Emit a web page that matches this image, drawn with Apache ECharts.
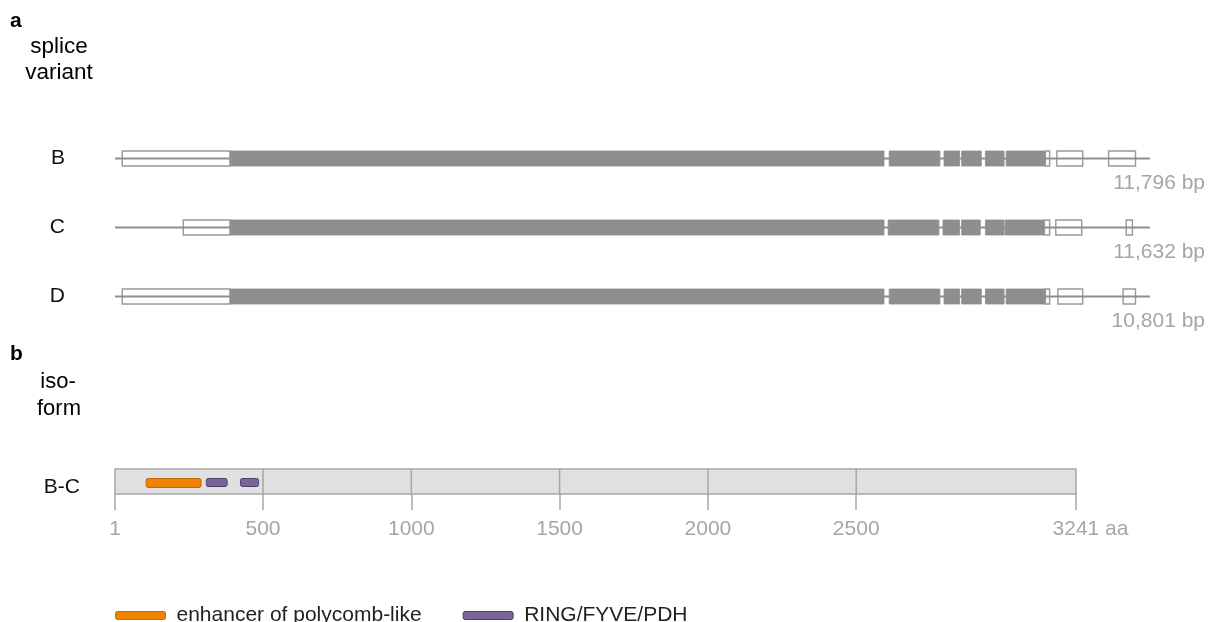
<!DOCTYPE html>
<html>
<head>
<meta charset="utf-8">
<script src="https://cdn.jsdelivr.net/npm/echarts@6.0.0/dist/echarts.min.js"></script>
<style>html,body{margin:0;padding:0;background:#fff}#c{width:1211px;height:622px}</style>
</head>
<body>
<div id="c"></div>
<script>
// ---- data (gene track positions in relative units 0..1000 of the drawn gene span) ----
const variants = ['B', 'C', 'D'];
const variantLengths = ['11,796 bp', '11,632 bp', '10,801 bp'];
const geneSpan = [[0, 1000], [0, 1000], [0, 1000]];
const utrB = [[7, 111], [899, 903], [910, 935], [960, 986]];
const utrC = [[66, 111], [898, 903], [909, 934], [977, 983]];
const utrD = [[7, 111], [899, 903], [911, 935], [974, 986]];
const cdsB = [[111, 743], [748, 797], [801, 816], [818, 837], [841, 859], [861, 899]];
const cdsC = [[111, 743], [747, 796], [800, 816], [818, 836], [841, 859], [860, 898]];
const cdsD = [[111, 743], [748, 797], [801, 816], [818, 837], [841, 859], [861, 899]];

const isoforms = ['B-C'];
const proteinLength = 3241;
const proteinTicks = [1, 500, 1000, 1500, 2000, 2500, 3241];
const epclDomains = [[106, 291]];
const ringDomains = [[309, 379], [424, 485]];

// ---- build ----
const FONT = "'Liberation Sans', Arial, sans-serif";
const GRAY = '#8e8e8e';
const LIGHT = '#a6a6a6';
const ORANGE = '#ef8200', ORANGE_B = '#c06a00';
const PURPLE = '#7b6497', PURPLE_B = '#4f3d68';

function rows(arrs) {
  const out = [];
  arrs.forEach((a, i) => a.forEach(d => out.push([d[0], d[1], i])));
  return out;
}
const cdsData = rows([cdsB, cdsC, cdsD]);
const utrData = rows([utrB, utrC, utrD]);
const spanData = geneSpan.map((d, i) => [d[0], d[1], i]);

function exonRenderer(filled) {
  return function (params, api) {
    const s = api.coord([api.value(0), api.value(2)]);
    const e = api.coord([api.value(1), api.value(2)]);
    const h = 15;
    return {
      type: 'rect',
      shape: { x: s[0], y: s[1] - h / 2, width: e[0] - s[0], height: h },
      style: filled ? { fill: GRAY, stroke: GRAY, lineWidth: 0.8 }
                    : { fill: '#fff', stroke: '#999', lineWidth: 1.4 }
    };
  };
}

const option = {
  animation: false,
  backgroundColor: '#fff',
  textStyle: { fontFamily: FONT },
  grid: [
    { left: 115, right: 61, top: 124, height: 207 },
    { left: 115, right: 135, top: 469, height: 25 }
  ],
  xAxis: [
    { gridIndex: 0, type: 'value', min: 0, max: 1000, show: false },
    {
      gridIndex: 1, type: 'value', min: 1, max: proteinLength,
      axisLine: { show: false },
      splitLine: { show: false },
      axisTick: { show: true, customValues: proteinTicks, length: 16, lineStyle: { color: LIGHT, width: 1.5 } },
      axisLabel: {
        customValues: proteinTicks, margin: 25, fontSize: 21, color: LIGHT, fontFamily: FONT,
        formatter: function (v) { return v === proteinLength ? '{p|}' + v + ' aa' : String(v); },
        rich: { p: { width: 29, fontSize: 21 } }
      }
    }
  ],
  yAxis: [
    {
      gridIndex: 0, type: 'category', data: variants, inverse: true,
      axisLine: { show: false }, axisTick: { show: false }, splitLine: { show: false },
      axisLabel: { margin: 50, fontSize: 21, color: '#111', fontFamily: FONT }
    },
    {
      gridIndex: 1, type: 'category', data: isoforms,
      axisLine: { show: false }, axisTick: { show: false }, splitLine: { show: false },
      axisLabel: {
        margin: 35, fontSize: 21, color: '#111', fontFamily: FONT,
        formatter: function (v) { return '{a|' + v + '}'; },
        rich: { a: { fontSize: 21, color: '#111', fontFamily: FONT, padding: [12, 0, 0, 0] } }
      }
    }
  ],
  legend: {
    left: 115, top: 605, padding: 0, itemWidth: 50, itemHeight: 8, itemGap: 41,
    textStyle: { fontSize: 21, color: '#222', fontFamily: FONT, padding: [0, 0, 0, 6] },
    selectedMode: false,
    data: [
      { name: 'enhancer of polycomb-like', icon: 'roundRect', itemStyle: { color: ORANGE, borderColor: ORANGE_B, borderWidth: 1 } },
      { name: 'RING/FYVE/PDH', icon: 'roundRect', itemStyle: { color: PURPLE, borderColor: PURPLE_B, borderWidth: 1 } }
    ]
  },
  graphic: [
    { type: 'text', left: 10, top: 11, style: { text: 'a', font: 'bold 21px ' + FONT, fill: '#000' } },
    { type: 'text', x: 59, y: 47, style: { text: 'splice', font: '22.5px ' + FONT, fill: '#000', textAlign: 'center', textVerticalAlign: 'middle' } },
    { type: 'text', x: 59, y: 73, style: { text: 'variant', font: '22.5px ' + FONT, fill: '#000', textAlign: 'center', textVerticalAlign: 'middle' } },
    { type: 'text', left: 10, top: 344, style: { text: 'b', font: 'bold 21px ' + FONT, fill: '#000' } },
    { type: 'text', x: 58, y: 382, style: { text: 'iso-', font: '22px ' + FONT, fill: '#000', textAlign: 'center', textVerticalAlign: 'middle' } },
    { type: 'text', x: 59, y: 409, style: { text: 'form', font: '22px ' + FONT, fill: '#000', textAlign: 'center', textVerticalAlign: 'middle' } }
  ],
  series: [
    {
      name: 'CDS', type: 'custom', xAxisIndex: 0, yAxisIndex: 0,
      renderItem: exonRenderer(true), data: cdsData, encode: { x: [0, 1], y: 2 }, z: 2
    },
    {
      name: 'UTR', type: 'custom', xAxisIndex: 0, yAxisIndex: 0,
      renderItem: exonRenderer(false), data: utrData, encode: { x: [0, 1], y: 2 }, z: 2
    },
    {
      name: 'intron', type: 'custom', xAxisIndex: 0, yAxisIndex: 0, z: 3,
      data: spanData, encode: { x: [0, 1], y: 2 },
      renderItem: function (params, api) {
        const s = api.coord([api.value(0), api.value(2)]);
        const e = api.coord([api.value(1), api.value(2)]);
        return {
          type: 'group',
          children: [
            { type: 'line', shape: { x1: s[0], y1: s[1], x2: e[0], y2: e[1] }, style: { stroke: GRAY, lineWidth: 2 } },
            { type: 'text', x: e[0] + 55, y: e[1] + 25, style: { text: variantLengths[params.dataIndex], font: '21px ' + FONT, fill: LIGHT, textAlign: 'right', textVerticalAlign: 'middle' } }
          ]
        };
      }
    },
    {
      name: 'protein', type: 'custom', xAxisIndex: 1, yAxisIndex: 1, z: 1,
      data: [[1, proteinLength, 0]], encode: { x: [0, 1], y: 2 },
      renderItem: function (params, api) {
        const s = api.coord([api.value(0), 0]);
        const e = api.coord([api.value(1), 0]);
        const h = api.size([0, 1])[1];
        const top = s[1] - h / 2;
        const children = [
          { type: 'rect', shape: { x: s[0], y: top, width: e[0] - s[0], height: h }, style: { fill: '#e0e0e0', stroke: LIGHT, lineWidth: 1.5 } }
        ];
        proteinTicks.slice(1, -1).forEach(t => {
          const p = api.coord([t, 0]);
          children.push({ type: 'line', shape: { x1: p[0], y1: top, x2: p[0], y2: top + h }, style: { stroke: LIGHT, lineWidth: 1.5 } });
        });
        return { type: 'group', children: children };
      }
    },
    {
      name: 'enhancer of polycomb-like', type: 'custom', xAxisIndex: 1, yAxisIndex: 1, z: 4,
      itemStyle: { color: ORANGE, borderColor: ORANGE_B },
      data: epclDomains.map(d => [d[0], d[1], 0]), encode: { x: [0, 1], y: 2 },
      renderItem: function (params, api) {
        const s = api.coord([api.value(0), 0]);
        const e = api.coord([api.value(1), 0]);
        return { type: 'rect', shape: { x: s[0], y: s[1] - 3, width: e[0] - s[0], height: 9, r: 2 }, style: { fill: ORANGE, stroke: ORANGE_B, lineWidth: 1 } };
      }
    },
    {
      name: 'RING/FYVE/PDH', type: 'custom', xAxisIndex: 1, yAxisIndex: 1, z: 4,
      itemStyle: { color: PURPLE, borderColor: PURPLE_B },
      data: ringDomains.map(d => [d[0], d[1], 0]), encode: { x: [0, 1], y: 2 },
      renderItem: function (params, api) {
        const s = api.coord([api.value(0), 0]);
        const e = api.coord([api.value(1), 0]);
        return { type: 'rect', shape: { x: s[0], y: s[1] - 3, width: e[0] - s[0], height: 8, r: 2 }, style: { fill: PURPLE, stroke: PURPLE_B, lineWidth: 1 } };
      }
    }
  ]
};
const chart = echarts.init(document.getElementById('c'), null, { renderer: 'canvas' });
chart.setOption(option);
</script>
</body>
</html>
